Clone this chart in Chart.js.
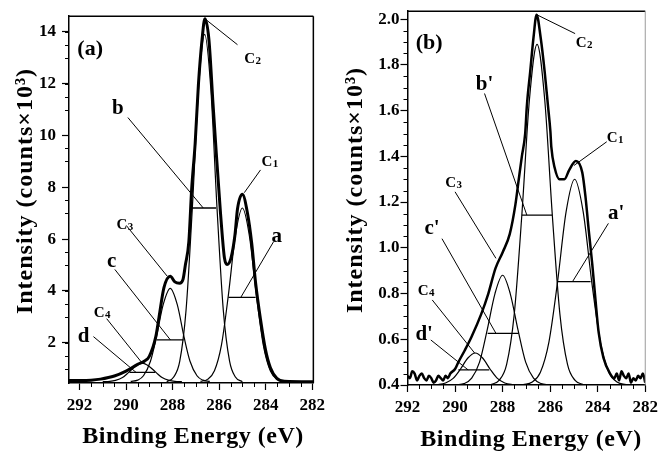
<!DOCTYPE html>
<html>
<head>
<meta charset="utf-8">
<script src="https://cdn.jsdelivr.net/npm/chart.js@4"></script>
<style>
  html, body { margin: 0; padding: 0; background: #fff; }
  #wrap { position: relative; width: 663px; height: 453px; }
  canvas { position: absolute; top: 0; }
  #chartA { left: 0; }
  #chartB { left: 330px; }
</style>
</head>
<body>
<div id="wrap">
  <canvas id="chartA" width="330" height="453"></canvas>
  <canvas id="chartB" width="333" height="453"></canvas>
</div>
<script>
// ============================================================
//  C1s XPS — painel (a) e painel (b)
// ============================================================

// ── Eixos ───────────────────────────────────────────────────
const xTicks  = [292, 290, 288, 286, 284, 282];
const yTicksA = [2, 4, 6, 8, 10, 12, 14];
const yTicksB = [0.4, 0.6, 0.8, 1.0, 1.2, 1.4, 1.6, 1.8, 2.0];

// ── Painel (a): envelope medido ─────────────────────────────
const envAE = [292.45, 292.0, 291.5, 291.1, 290.5, 290.0, 289.5, 289.2, 289.0, 288.72, 288.58, 288.37, 288.1,
               287.9, 287.7, 287.55, 287.45, 287.3, 287.18, 287.03, 286.89, 286.73, 286.61, 286.44, 286.26,
               286.12, 285.94, 285.87, 285.77, 285.66, 285.49, 285.32, 285.21, 285.0, 284.78, 284.6, 284.43,
               284.22, 284.01, 283.8, 283.52, 283.2, 281.95];
const envAI = [0.55, 0.55, 0.56, 0.6, 0.72, 0.91, 1.17, 1.3, 1.48, 2.24, 3.0, 4.13, 4.57,
               4.35, 4.3, 4.45, 5.0, 5.9, 7.92, 9.68, 11.95, 13.72, 14.5, 13.72, 11.2,
               9.3, 7.0, 6.2, 5.27, 5.02, 5.27, 6.15, 7.16, 7.73, 7.0, 5.85, 4.3,
               2.9, 1.75, 1.05, 0.63, 0.52, 0.5];

// ── Painel (a): componentes ajustadas ───────────────────────
const compAaE = [286.8, 286.5, 286.2, 285.9, 285.6, 285.3, 285.0, 284.7, 284.4, 284.1, 283.8, 283.5, 283.2];
const compAaI = [0.51, 0.59, 0.92, 1.91, 3.85, 6.13, 7.2, 6.13, 3.85, 1.91, 0.92, 0.59, 0.51];
const compAbE = [288.25, 287.95, 287.69, 287.42, 287.15, 286.88, 286.62, 286.36, 286.09, 285.82, 285.55, 285.3, 285.0];
const compAbI = [0.5, 0.68, 1.29, 3.26, 7.2, 11.85, 13.9, 11.85, 7.2, 3.26, 1.29, 0.68, 0.5];
const compAcE = [289.8, 289.5, 289.25, 288.95, 288.7, 288.4, 288.1, 287.8, 287.5, 287.25, 286.95, 286.7, 286.4];
const compAcI = [0.51, 0.56, 0.73, 1.29, 2.2, 3.48, 4.1, 3.48, 2.2, 1.29, 0.73, 0.56, 0.51];
const compAdE = [291.0, 290.7, 290.45, 290.15, 289.9, 289.6, 289.3, 289.0, 288.7, 288.45, 288.15, 287.9, 287.6];
const compAdI = [0.5, 0.51, 0.55, 0.66, 0.85, 1.09, 1.22, 1.09, 0.85, 0.66, 0.55, 0.51, 0.5];

// ── Painel (b): dados medidos ───────────────────────────────
const rawBE = [292.0, 291.9, 291.8, 291.7, 291.6, 291.5, 291.4, 291.3, 291.2, 291.1, 291.0, 290.9, 290.8,
               290.7, 290.6, 290.5, 290.4, 290.3, 290.2,
               290.0, 289.86, 289.6, 289.31, 288.9, 288.6, 288.3, 288.0, 287.7, 287.46, 287.32, 287.19,
               287.05, 286.98, 286.84, 286.7, 286.57, 286.4, 286.23, 286.09, 285.99, 285.95, 285.81, 285.61,
               285.4, 285.2, 284.92, 284.65, 284.51, 284.38, 284.23, 284.1, 283.96, 283.76, 283.48, 283.3,
               283.2, 283.1, 283.0, 282.9, 282.8, 282.7, 282.6, 282.5, 282.4, 282.3, 282.2, 282.1, 282.0];
const rawBI = [0.44, 0.43, 0.46, 0.45, 0.42, 0.44, 0.45, 0.43, 0.42, 0.44, 0.43, 0.41, 0.42,
               0.44, 0.43, 0.42, 0.44, 0.43, 0.45,
               0.47, 0.50, 0.55, 0.61, 0.71, 0.80, 0.91, 0.98, 1.06, 1.19, 1.30, 1.40,
               1.50, 1.62, 1.77, 1.92, 2.02, 1.92, 1.77, 1.62, 1.51, 1.44, 1.35, 1.30,
               1.30, 1.34, 1.38, 1.33, 1.22, 1.08, 0.93, 0.78, 0.63, 0.52, 0.45, 0.43,
               0.45, 0.42, 0.46, 0.44, 0.43, 0.45, 0.41, 0.43, 0.42, 0.44, 0.43, 0.45, 0.41];

// ── Painel (b): componentes ajustadas ───────────────────────
const compBaE = [287.13, 286.77, 286.41, 286.05, 285.69, 285.33, 284.97, 284.61, 284.25, 283.89, 283.53, 283.17, 282.81];
const compBaI = [0.402, 0.412, 0.456, 0.589, 0.85, 1.157, 1.3, 1.157, 0.85, 0.589, 0.456, 0.412, 0.402];
const compBbE = [288.47, 288.15, 287.83, 287.51, 287.19, 286.87, 286.55, 286.23, 285.91, 285.59, 285.27, 284.95, 284.63];
const compBbI = [0.403, 0.42, 0.49, 0.71, 1.145, 1.65, 1.89, 1.65, 1.145, 0.71, 0.49, 0.42, 0.403];
const compBcE = [289.95, 289.62, 289.3, 288.97, 288.65, 288.32, 288.0, 287.68, 287.35, 287.03, 286.7, 286.38, 286.05];
const compBcI = [0.401, 0.406, 0.43, 0.5, 0.64, 0.8, 0.88, 0.8, 0.64, 0.5, 0.43, 0.406, 0.401];
const compBdE = [291.01, 290.7, 290.4, 290.08, 289.77, 289.46, 289.15, 288.84, 288.53, 288.22, 287.91, 287.6, 287.29];
const compBdI = [0.4, 0.402, 0.409, 0.429, 0.47, 0.518, 0.54, 0.518, 0.47, 0.429, 0.409, 0.402, 0.4];

// ── Meias-alturas [E1, E2, I] e setas [E1, I1, E2, I2] ──────
const halfA = [[285.6, 284.43, 3.75], [287.19, 286.13, 7.2], [288.68, 287.53, 2.11], [289.85, 288.75, 0.86]];
const halfB = [[285.67, 284.3, 0.852], [287.19, 285.91, 1.143], [288.63, 287.32, 0.626], [289.86, 288.56, 0.466]];
const ptrA = [[286.61, 14.5, 285.21, 13.5], [289.92, 10.69, 286.68, 7.2], [284.22, 8.67, 284.92, 7.79],
              [283.66, 5.9, 285.07, 3.75], [289.99, 6.53, 288.23, 4.57], [290.48, 4.83, 288.09, 2.11],
              [290.83, 2.93, 289.29, 1.2], [291.4, 2.24, 289.57, 0.86]];
const ptrB = [[286.57, 2.02, 284.95, 1.937], [288.76, 1.675, 286.98, 1.143], [283.62, 1.464, 285.0, 1.36],
              [290.0, 1.245, 288.28, 0.954], [290.55, 1.04, 288.28, 0.626], [283.55, 1.107, 285.06, 0.852],
              [290.96, 0.772, 289.17, 0.539], [291.02, 0.597, 289.45, 0.466]];

// ── Rótulos [texto, índice, E, I, tamanho] ──────────────────
const labelsA = [['(a)', '', 291.54, 13.4, 22], ['C', '2', 284.57, 13.0, 15], ['b', '', 290.35, 11.08, 21],
                 ['C', '1', 283.83, 9.0, 15], ['a', '', 283.52, 6.15, 21], ['C', '3', 290.06, 6.6, 15],
                 ['c', '', 290.62, 5.2, 21], ['C', '4', 291.04, 3.17, 15], ['d', '', 291.82, 2.3, 21]];
const labelsB = [['(b)', '', 291.09, 1.9, 22], ['C', '2', 284.58, 1.9, 15], ["b'", '', 288.76, 1.72, 21],
                 ['C', '1', 283.28, 1.485, 15], ['C', '3', 290.07, 1.289, 15], ["c'", '', 290.97, 1.09, 21],
                 ["a'", '', 283.22, 1.158, 21], ['C', '4', 291.23, 0.815, 15], ["d'", '', 291.3, 0.626, 21]];

const SERIF = '"Liberation Serif", "Times New Roman", serif';
Chart.defaults.font.family = SERIF;
Chart.defaults.color = '#000';

// ── Helpers ─────────────────────────────────────────────────
const pts = (E, I) => E.map((e, i) => ({ x: e, y: I[i] }));

function curve(E, I, width) {
  return {
    data: pts(E, I), borderColor: '#000', borderWidth: width, pointRadius: 0, fill: false,
    cubicInterpolationMode: 'monotone', borderJoinStyle: 'round'
  };
}

function segment(x1, y1, x2, y2, width) {
  return {
    data: [{ x: x1, y: y1 }, { x: x2, y: y2 }], borderColor: '#000', borderWidth: width,
    pointRadius: 0, tension: 0, fill: false
  };
}

function drawLabel(ctx, sx, sy, [text, sub, e, v, size]) {
  const px = sx.getPixelForValue(e), py = sy.getPixelForValue(v);
  const big = `bold ${size}px ${SERIF}`, small = `bold ${Math.round(size * 0.72)}px ${SERIF}`;
  ctx.font = big;
  const w1 = ctx.measureText(text).width;
  let w2 = 0;
  if (sub) { ctx.font = small; w2 = ctx.measureText(sub).width; }
  const left = px - (w1 + w2) / 2, base = py + size * 0.33;
  ctx.textAlign = 'left';
  ctx.textBaseline = 'alphabetic';
  ctx.font = big;
  ctx.fillText(text, left, base);
  if (sub) { ctx.font = small; ctx.fillText(sub, left + w1 + 0.5, base + 1); }
}

// ── Plugin: moldura, ticks menores, rótulos, títulos ────────
const decor = {
  id: 'decor',
  afterDraw(chart, args, o) {
    const { ctx, chartArea: ca, scales: { x, y } } = chart;
    ctx.save();
    ctx.lineWidth = 1.5;
    ctx.strokeStyle = '#000';
    ctx.beginPath(); ctx.moveTo(ca.left, ca.top); ctx.lineTo(ca.right, ca.top); ctx.stroke();
    ctx.strokeStyle = o.rightColor;
    ctx.lineWidth = o.rightWidth;
    ctx.beginPath(); ctx.moveTo(ca.right, ca.top); ctx.lineTo(ca.right, ca.bottom); ctx.stroke();

    // ticks menores
    ctx.strokeStyle = '#000';
    ctx.lineWidth = 1;
    ctx.beginPath();
    for (let i = 0; 282 + i * 0.5 <= 292; i++) {
      if (i % 4 === 0) continue;
      const px = Math.round(x.getPixelForValue(282 + i * 0.5)) + 0.5;
      ctx.moveTo(px, ca.bottom); ctx.lineTo(px, ca.bottom + 4);
    }
    for (let i = 0; o.yMin0 + i * o.yMinor <= y.max; i++) {
      if (i % o.yEvery === 0) continue;
      const py = Math.round(y.getPixelForValue(o.yMin0 + i * o.yMinor)) + 0.5;
      ctx.moveTo(ca.left - 4, py); ctx.lineTo(ca.left, py);
    }
    ctx.stroke();

    // rótulos dos picos
    ctx.fillStyle = '#000';
    o.labels.forEach(l => drawLabel(ctx, x, y, l));

    // títulos dos eixos
    ctx.textAlign = 'center';
    ctx.textBaseline = 'middle';
    ctx.font = `bold 24px ${SERIF}`;
    ctx.letterSpacing = '0.5px';
    ctx.fillText('Binding Energy (eV)', o.xTitle[0], o.xTitle[1]);
    ctx.letterSpacing = '1px';
    ctx.translate(o.yTitle[0], o.yTitle[1]);
    ctx.rotate(-Math.PI / 2);
    ctx.fillText('Intensity (counts\u00d710\u00b3)', 0, 0);
    ctx.restore();
  }
};

// ── Montagem de um painel ───────────────────────────────────
function makePanel(id, p) {
  const tickFont = { family: SERIF, size: 17, weight: 'bold' };
  const datasets = [curve(p.envE, p.envI, p.envWidth)];
  p.comps.forEach(([E, I]) => datasets.push(curve(E, I, 1.2)));
  p.half.forEach(([e1, e2, v]) => datasets.push(segment(e1, v, e2, v, 1.3)));
  p.ptr.forEach(([e1, v1, e2, v2]) => datasets.push(segment(e1, v1, e2, v2, 1)));

  return new Chart(document.getElementById(id), {
    type: 'line',
    data: { datasets },
    options: {
      responsive: false,
      animation: false,
      layout: { padding: { top: 11, right: p.padRight, left: 0, bottom: 0 } },
      plugins: {
        legend: { display: false },
        tooltip: { enabled: false },
        decor: {
          labels: p.labels, xTitle: p.xTitle, yTitle: p.yTitle,
          yMin0: p.yMin0, yMinor: p.yMinor, yEvery: p.yEvery,
          rightColor: p.rightColor, rightWidth: p.rightWidth
        }
      },
      scales: {
        x: {
          type: 'linear', reverse: true, min: p.xMin, max: p.xMax,
          afterFit: s => { s.height = p.xHeight; },
          afterBuildTicks: s => { s.ticks = xTicks.map(v => ({ value: v })); },
          ticks: { font: tickFont, color: '#000', padding: 5, maxRotation: 0, autoSkip: false,
                   callback: v => String(v) },
          grid: { drawOnChartArea: false, tickLength: 7, tickColor: '#000', tickWidth: 1.2 },
          border: { color: '#000', width: 1.5 }
        },
        y: {
          type: 'linear', min: p.yMin, max: p.yMax,
          afterFit: s => { s.width = p.yWidth; },
          afterBuildTicks: s => { s.ticks = p.yTicks.map(v => ({ value: v })); },
          ticks: { font: tickFont, color: '#000', padding: p.yPad, autoSkip: false,
                   callback: p.yFmt },
          grid: { drawOnChartArea: false, tickLength: 7, tickColor: '#000', tickWidth: 1.2 },
          border: { color: '#000', width: 1.5 }
        }
      }
    },
    plugins: [decor]
  });
}

// ── Inicialização ───────────────────────────────────────────
makePanel('chartA', {
  envE: envAE, envI: envAI, envWidth: 3,
  comps: [[compAaE, compAaI], [compAbE, compAbI], [compAcE, compAcI], [compAdE, compAdI]],
  half: halfA, ptr: ptrA, labels: labelsA,
  xMin: 281.95, xMax: 292.45, yMin: 0.45, yMax: 14.6, yTicks: yTicksA,
  yFmt: v => String(v), yMin0: 0.5, yMinor: 0.5, yEvery: 4,
  padRight: 13, xHeight: 70, yWidth: 69, yPad: 6,
  xTitle: [193, 437], yTitle: [26, 191],
  rightColor: '#000', rightWidth: 1.5
});

makePanel('chartB', {
  envE: rawBE, envI: rawBI, envWidth: 2.5,
  comps: [[compBaE, compBaI], [compBbE, compBbI], [compBcE, compBcI], [compBdE, compBdI]],
  half: halfB, ptr: ptrB, labels: labelsB,
  xMin: 282, xMax: 292, yMin: 0.4, yMax: 2.035, yTicks: yTicksB,
  yFmt: v => v.toFixed(1), yMin0: 0.4, yMinor: 0.05, yEvery: 4,
  padRight: 12, xHeight: 68, yWidth: 77.5, yPad: 1,
  xTitle: [201, 440], yTitle: [26, 190],
  rightColor: '#9a9a9a', rightWidth: 1
});
</script>
</body>
</html>
